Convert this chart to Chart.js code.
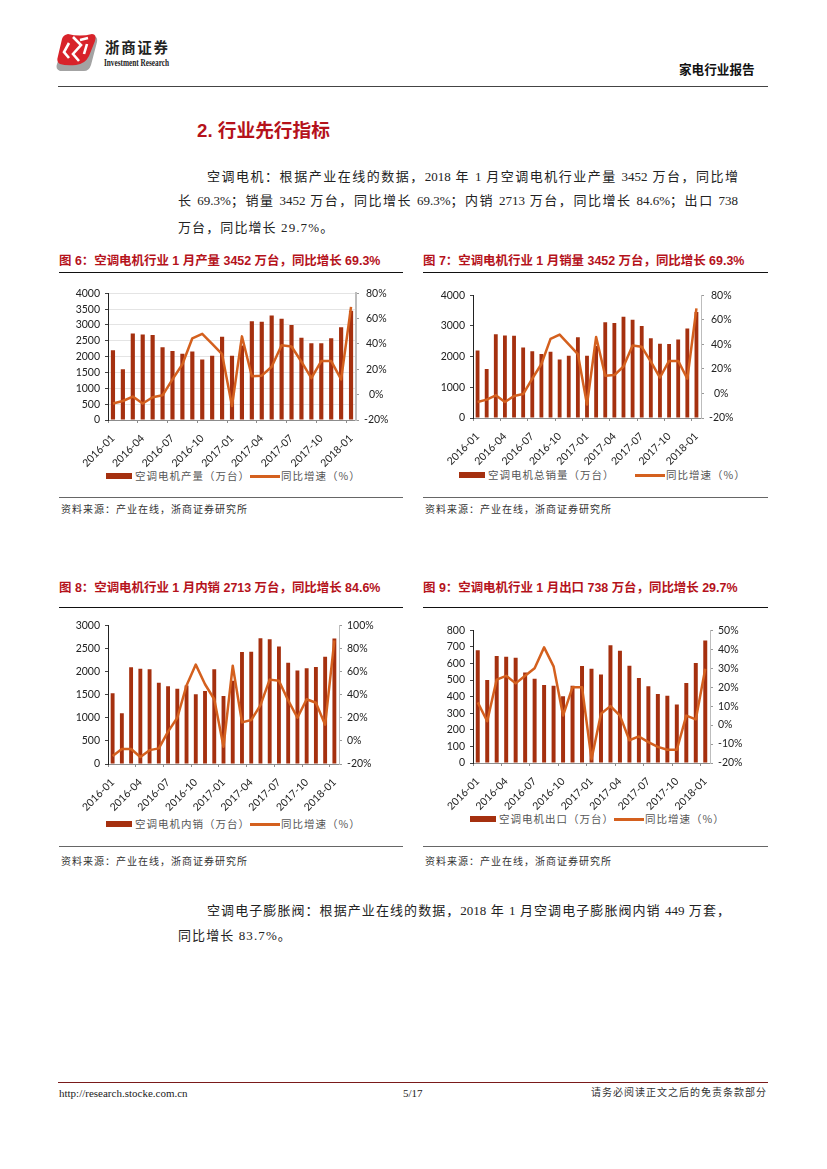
<!DOCTYPE html>
<html>
<head>
<meta charset="utf-8">
<script src="https://cdn.jsdelivr.net/npm/chart.js@4"></script>
<style>
  html, body { margin: 0; padding: 0; background: #fff; }
  #page { position: relative; width: 827px; height: 1169px; overflow: hidden; font-family: "Liberation Serif", "Noto Sans CJK SC", serif; color: #222; }
  #page > * { position: absolute; }
  .rule { height: 1px; background: #111; }
  .line { font-size: 13px; line-height: 18px; height: 18px; white-space: nowrap; text-align: justify; text-align-last: justify; }
  .line.last { text-align: left; text-align-last: left; letter-spacing: 1.1px; }
  .figtitle { font: bold 12.45px/16px "Liberation Sans", "Noto Sans CJK SC", sans-serif; color: #b5121b; white-space: nowrap; }
  .source { font: 10px/14px "Liberation Serif", "Noto Sans CJK SC", serif; letter-spacing: 1px; color: #333; white-space: nowrap; }
  .legend { font: 10.5px/14px "Noto Sans CJK SC", sans-serif; letter-spacing: 1px; color: #555; white-space: nowrap; }
  .swatch { height: 6px; background: #a5300f; }
  .stroke { height: 2.5px; background: #d4601e; }
</style>
</head>
<body>
<div id="page">
  <svg style="left:50px;top:28px" width="130" height="50" viewBox="50 28 130 50">
    <path d="M66 38 L94 36 Q98 37 97 42 L91 65 Q89 71 84 71 L60 71 Q55 69 57 64 Z" fill="#a3a3a3"/>
    <path d="M68 34 Q80 37 92 34 Q97 34 95 41 L89 56 Q85 64 76 65 Q66 66 60 64 Q56 62 58 56 L62 39 Q63 35 68 34 Z" fill="#d8232a"/>
    <path d="M73 37 L81 45 L73 54 L79 61 M88 38 L80 40 M69 43 L64 52 L69 58 M87 44 L84 54" fill="none" stroke="#fff" stroke-width="2.6"/>
    <text x="105" y="53" font-family="Noto Sans CJK SC" font-weight="700" font-size="14.5" fill="#222" textLength="63">浙商证券</text>
    <text x="104" y="66" font-family="Liberation Serif" font-weight="700" font-size="11" fill="#222" textLength="65" lengthAdjust="spacingAndGlyphs">Investment Research</text>
  </svg>
  <div style="left:679px;top:62px;font:bold 12.6px/16px 'Liberation Sans','Noto Sans CJK SC',sans-serif;color:#111">家电行业报告</div>
  <div class="rule" style="left:58px;top:86px;width:710px;background:#444"></div>

  <div style="left:197px;top:118px;font:bold 18.7px/26px 'Liberation Sans','Noto Sans CJK SC',sans-serif;color:#b5121b;white-space:nowrap">2. 行业先行指标</div>
  <div class="line" style="left:207px;top:168px;width:531px">空调电机：根据产业在线的数据，2018 年 1 月空调电机行业产量 3452 万台，同比增</div>
  <div class="line" style="left:178px;top:192px;width:560px">长 69.3%；销量 3452 万台，同比增长 69.3%；内销 2713 万台，同比增长 84.6%；出口 738</div>
  <div class="line last" style="left:178px;top:219px">万台，同比增长 29.7%。</div>

  <div class="line" style="left:207px;top:902px;width:523px">空调电子膨胀阀：根据产业在线的数据，2018 年 1 月空调电子膨胀阀内销 449 万套，</div>
  <div class="line last" style="left:178px;top:927px">同比增长 83.7%。</div>

  <div class="rule" style="left:58px;top:1082px;width:710px;background:#7a1a1a"></div>
  <div style="left:59px;top:1086px;font:11px/14px 'Liberation Serif',serif;color:#222">http://research.stocke.com.cn</div>
  <div style="left:403px;top:1086px;font:11px/14px 'Liberation Serif',serif;color:#222">5/17</div>
  <div class="source" style="left:591px;top:1086px">请务必阅读正文之后的免责条款部分</div>
</div>

<script>
// Shared x axis
const months = [
  '2016-01', '2016-02', '2016-03', '2016-04', '2016-05', '2016-06', '2016-07', '2016-08', '2016-09',
  '2016-10', '2016-11', '2016-12', '2017-01', '2017-02', '2017-03', '2017-04', '2017-05', '2017-06',
  '2017-07', '2017-08', '2017-09', '2017-10', '2017-11', '2017-12', '2018-01',
];

// Values
const outputBars = [2200, 1600, 2730, 2700, 2680, 2300, 2180, 2090, 2160, 1910, 2030, 2630, 2030, 2350, 3120, 3100, 3300, 3200, 3000, 2600, 2420, 2420, 2580, 2930, 3452];
const outputGrowth = [-7, -5, -1.5, -7, -2, -0.5, 12, 24, 44.5, 48, 40, 32, -9, 46, 14.5, 15, 22, 39, 38, 26, 13, 26.5, 26.5, 12, 69.3];
const salesBars = [2200, 1600, 2730, 2690, 2680, 2300, 2180, 2090, 2160, 1910, 2030, 2630, 2030, 2350, 3120, 3100, 3300, 3200, 3000, 2600, 2420, 2410, 2560, 2920, 3452];
const salesGrowth = [-7, -5, -1.5, -7, -2, -0.5, 12, 24, 44.5, 48, 40, 32, -9, 46, 14.5, 15, 22, 39, 38, 26, 13, 26.5, 26.5, 12, 69.3];
const domesticBars = [1530, 1100, 2090, 2060, 2050, 1760, 1680, 1630, 1700, 1510, 1580, 2050, 1470, 1800, 2420, 2430, 2720, 2700, 2540, 2190, 2020, 2070, 2100, 2320, 2713];
const domesticGrowth = [-13, -7, -7, -14, -8, -6.5, 8, 20, 48, 66, 49, 36, -5, 65, 16, 18, 31, 53, 52, 35, 20, 36, 33, 14, 87];
const exportBars = [680, 500, 645, 640, 635, 545, 508, 470, 465, 403, 465, 585, 568, 533, 710, 677, 587, 512, 463, 416, 405, 352, 483, 603, 738];
const exportGrowth = [12, 2, 24, 26, 22, 26, 30, 41, 31, 5, 20, 20, -18, 6, 10, 5, -8, -6, -9, -11.5, -13, -13, 5, 3, 29.7];

const growthName = '同比增速（%）';

const BAR_COLOR = '#a5300f';
const LINE_COLOR = '#d4601e';
const TICK_FONT = { family: 'Lato', size: 10.5 };

const page = document.getElementById('page');

// Little helper for the absolutely placed page furniture
const addDiv = (className, left, top, width, text) => {
  const el = document.createElement('div');
  el.className = className;
  el.style.left = left + 'px';
  el.style.top = top + 'px';
  if (width) el.style.width = width + 'px';
  if (text) el.textContent = text;
  page.appendChild(el);
};

const drawPanel = (cfg) => {
  const { plot } = cfg;

  // Heading, rules and source line
  addDiv('figtitle', cfg.blockLeft, cfg.titleTop, 0, cfg.title);
  addDiv('rule', cfg.blockLeft, cfg.ruleTop, cfg.blockWidth);
  addDiv('rule', cfg.blockLeft, cfg.bottomRuleTop, cfg.blockWidth);
  page.lastChild.style.background = '#666';
  addDiv('source', cfg.blockLeft + 2, cfg.sourceTop, 0, '资料来源：产业在线，浙商证券研究所');

  // Legend
  const lg = cfg.legend;
  addDiv('swatch', lg.bar, lg.y - 3, 26);
  addDiv('legend', lg.bar + 29, lg.y - 7, 0, cfg.barName);
  addDiv('stroke', lg.line, lg.y - 1, 30);
  addDiv('legend', lg.line + 31, lg.y - 7, 0, growthName);

  // Canvas around the plot area
  const canvasLeft = plot.left - 52;
  const canvasTop = plot.top - 10;
  const canvasWidth = plot.right - canvasLeft + 46;
  const canvasHeight = plot.bottom - canvasTop + 50;
  const wrap = document.createElement('div');
  wrap.style.cssText = `left:${canvasLeft}px;top:${canvasTop}px;width:${canvasWidth}px;height:${canvasHeight}px`;
  const canvas = document.createElement('canvas');
  wrap.appendChild(canvas);
  page.appendChild(wrap);

  new Chart(canvas.getContext('2d'), {
    type: 'bar',
    data: {
      labels: months,
      datasets: [
        {
          type: 'line',
          label: growthName,
          data: cfg.growth,
          yAxisID: 'y2',
          borderColor: LINE_COLOR,
          borderWidth: 2.5,
          borderJoinStyle: 'round',
          pointRadius: 0,
          tension: 0,
          order: 0,
        },
        {
          type: 'bar',
          label: cfg.barName,
          data: cfg.bars,
          yAxisID: 'y',
          backgroundColor: BAR_COLOR,
          categoryPercentage: 1,
          barPercentage: 0.42,
          order: 1,
        },
      ],
    },
    options: {
      responsive: true,
      maintainAspectRatio: false,
      animation: false,
      layout: { padding: { top: plot.top - canvasTop, left: 0, right: 0, bottom: 0 } },
      plugins: { legend: { display: false }, tooltip: { enabled: false } },
      scales: {
        x: {
          offset: true,
          afterFit: (scale) => { scale.height = canvasTop + canvasHeight - plot.bottom; },
          border: { color: '#8c8c8c', width: 1 },
          grid: {
            offset: true,
            drawOnChartArea: false,
            tickLength: 3,
            tickColor: (c) => (c.index % 3 === 0 ? '#8c8c8c' : 'transparent'),
          },
          ticks: {
            autoSkip: false,
            maxRotation: 45,
            minRotation: 45,
            padding: 9,
            color: '#222',
            font: TICK_FONT,
            callback: (value, index) => (index % 3 === 0 ? months[index] : ''),
          },
        },
        y: {
          position: 'left',
          min: 0,
          max: cfg.leftMax,
          afterFit: (scale) => { scale.width = plot.left - canvasLeft; },
          border: { color: '#222', width: 1 },
          grid: {
            drawOnChartArea: !!cfg.gridlines,
            color: '#e4e4e4',
            tickLength: 3,
            tickColor: '#444',
          },
          ticks: {
            stepSize: cfg.leftStep,
            padding: 5,
            color: '#222',
            font: TICK_FONT,
            callback: (value) => String(value),
          },
        },
        y2: {
          position: 'right',
          min: -20,
          max: cfg.rightMax,
          afterFit: (scale) => { scale.width = canvasLeft + canvasWidth - plot.right; },
          border: { color: '#bdbdbd', width: cfg.rightBorder },
          grid: { drawOnChartArea: false, tickLength: 3, tickColor: '#999' },
          ticks: {
            stepSize: cfg.rightStep,
            padding: 5,
            color: '#222',
            font: TICK_FONT,
            crossAlign: cfg.rightAlign,
            callback: (value) => value + '%',
          },
        },
      },
    },
  });
};

drawPanel({
  title: '图 6：空调电机行业 1 月产量 3452 万台，同比增长 69.3%',
  barName: '空调电机产量（万台）',
  bars: outputBars, growth: outputGrowth,
  leftMax: 4000, leftStep: 500, rightMax: 80, rightStep: 20,
  gridlines: true, rightBorder: 2, rightAlign: 'center',
  blockLeft: 59, blockWidth: 344, titleTop: 253, ruleTop: 272, bottomRuleTop: 497, sourceTop: 503,
  plot: { left: 108, right: 356, top: 292, bottom: 420 },
  legend: { bar: 106, line: 250, y: 476 },
});

drawPanel({
  title: '图 7：空调电机行业 1 月销量 3452 万台，同比增长 69.3%',
  barName: '空调电机总销量（万台）',
  bars: salesBars, growth: salesGrowth,
  leftMax: 4000, leftStep: 1000, rightMax: 80, rightStep: 20,
  gridlines: false, rightBorder: 1, rightAlign: 'center',
  blockLeft: 423, blockWidth: 345, titleTop: 253, ruleTop: 272, bottomRuleTop: 497, sourceTop: 503,
  plot: { left: 473, right: 701, top: 294, bottom: 418 },
  legend: { bar: 459, line: 635, y: 475 },
});

drawPanel({
  title: '图 8：空调电机行业 1 月内销 2713 万台，同比增长 84.6%',
  barName: '空调电机内销（万台）',
  bars: domesticBars, growth: domesticGrowth,
  leftMax: 3000, leftStep: 500, rightMax: 100, rightStep: 20,
  gridlines: false, rightBorder: 1, rightAlign: 'near',
  blockLeft: 59, blockWidth: 344, titleTop: 580, ruleTop: 607, bottomRuleTop: 846, sourceTop: 855,
  plot: { left: 108, right: 339, top: 624, bottom: 764 },
  legend: { bar: 106, line: 250, y: 824 },
});

drawPanel({
  title: '图 9：空调电机行业 1 月出口 738 万台，同比增长 29.7%',
  barName: '空调电机出口（万台）',
  bars: exportBars, growth: exportGrowth,
  leftMax: 800, leftStep: 100, rightMax: 50, rightStep: 10,
  gridlines: false, rightBorder: 1, rightAlign: 'near',
  blockLeft: 423, blockWidth: 345, titleTop: 580, ruleTop: 607, bottomRuleTop: 846, sourceTop: 855,
  plot: { left: 473, right: 710, top: 629, bottom: 763 },
  legend: { bar: 470, line: 614, y: 819 },
});
</script>
</body>
</html>
